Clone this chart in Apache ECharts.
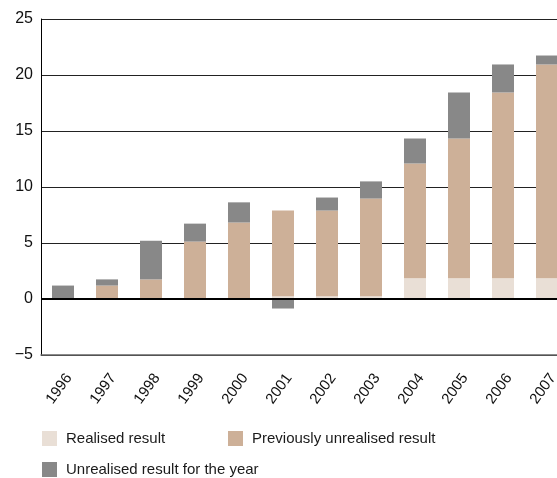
<!DOCTYPE html>
<html>
<head>
<meta charset="utf-8">
<script src="https://cdn.jsdelivr.net/npm/echarts@6/dist/echarts.min.js"></script>
<style>
  html, body { margin: 0; padding: 0; background: #fff; overflow: hidden; }
  /* canvas is a little wider than the page so the last year is cut at the edge */
  #chart { width: 569px; height: 478px; }
</style>
</head>
<body>
<div id="chart"></div>
<script>
// Annual results, stacked per year
const years = ['1996', '1997', '1998', '1999', '2000', '2001', '2002', '2003', '2004', '2005', '2006', '2007'];
const realisedResult = [0, 0, 0, 0, 0, 0.25, 0.25, 0.25, 1.85, 1.85, 1.85, 1.85];
const previouslyUnrealised = [0, 1.2, 1.75, 5.13, 6.83, 7.65, 7.65, 8.72, 10.25, 12.48, 16.59, 19.09];
const unrealisedForYear = [1.2, 0.55, 3.45, 1.6, 1.8, -0.85, 1.16, 1.53, 2.23, 4.11, 2.5, 0.8];
const yTicks = { min: -5, max: 25, interval: 5 };

const seriesNames = ['Realised result', 'Previously unrealised result', 'Unrealised result for the year'];
const colors = ['#e9dfd6', '#cdb098', '#888888'];
const font = '"Liberation Sans", Arial, sans-serif';

const chart = echarts.init(document.getElementById('chart'), null, { renderer: 'canvas' });

function legendAt(name, left, top) {
  return {
    data: [name], left: left, top: top, orient: 'horizontal',
    itemWidth: 15, itemHeight: 15, itemGap: 10,
    icon: 'rect',
    textStyle: { fontFamily: font, fontSize: 15, color: '#1a1a1a', padding: [0, 0, 0, 4] }
  };
}

chart.setOption({
  animation: false,
  color: colors,
  grid: { left: 41, top: 19, right: 0, bottom: 123, containLabel: false },
  legend: [
    legendAt(seriesNames[0], 37, 426),
    legendAt(seriesNames[1], 223, 426),
    legendAt(seriesNames[2], 37, 457)
  ],
  xAxis: {
    type: 'category',
    data: years,
    axisLine: { onZero: false, lineStyle: { color: '#666', width: 1.5 } },
    axisTick: { show: false },
    axisLabel: {
      rotate: 54, margin: 16, verticalAlign: 'top',
      fontFamily: font, fontSize: 15, color: '#111', interval: 0
    }
  },
  yAxis: {
    type: 'value',
    min: yTicks.min, max: yTicks.max, interval: yTicks.interval,
    axisLine: { show: true, lineStyle: { color: '#000', width: 1 } },
    axisTick: { show: false },
    axisLabel: {
      margin: 8, fontFamily: font, fontSize: 16, color: '#111',
      formatter: v => (v < 0 ? '\u2212' + Math.abs(v) : String(v))
    },
    splitLine: { show: true, lineStyle: { color: '#222', width: 1 } }
  },
  series: [
    {
      name: seriesNames[0], type: 'bar', stack: 'total', barWidth: 22,
      data: realisedResult, itemStyle: { color: colors[0] },
      markLine: {
        silent: true, symbol: 'none', label: { show: false },
        lineStyle: { color: '#000', width: 2, type: 'solid' },
        data: [{ yAxis: 0 }]
      }
    },
    { name: seriesNames[1], type: 'bar', stack: 'total', barWidth: 22, data: previouslyUnrealised, itemStyle: { color: colors[1] } },
    { name: seriesNames[2], type: 'bar', stack: 'total', barWidth: 22, data: unrealisedForYear, itemStyle: { color: colors[2] } }
  ]
});
</script>
</body>
</html>
